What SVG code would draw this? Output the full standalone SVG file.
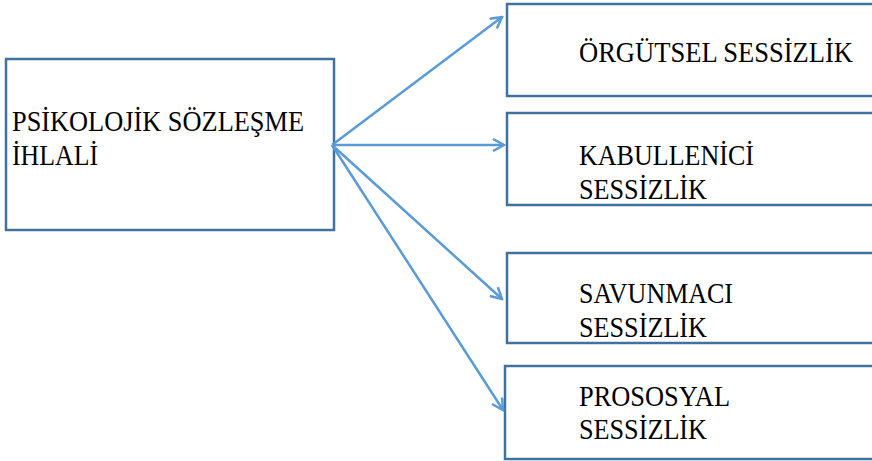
<svg xmlns="http://www.w3.org/2000/svg" width="872" height="461" viewBox="0 0 872 461">
<style>
.box{fill:#ffffff;stroke:#41719C;stroke-width:2.5}
.t{font-family:"Liberation Serif","DejaVu Serif",serif;font-size:28.5px;fill:#000}
.c{stroke:#5B9BD5;stroke-width:2.5;fill:none}
</style>
<defs>
<marker id="ah" viewBox="0 0 14 14" refX="12" refY="7" markerWidth="14" markerHeight="14" markerUnits="userSpaceOnUse" orient="auto">
<path d="M1,1 L12,7 L1,13" fill="none" stroke="#5B9BD5" stroke-width="2.5"/>
</marker>
</defs>
<rect width="872" height="461" fill="#ffffff"/>
<g id="n-main">
<rect class="box" x="6" y="59" width="328" height="171"/>
<text class="t" x="12" y="131" textLength="292" lengthAdjust="spacingAndGlyphs">PSİKOLOJİK SÖZLEŞME</text>
<text class="t" x="12" y="165" textLength="86" lengthAdjust="spacingAndGlyphs">İHLALİ</text>
</g>
<g id="n-orgutsel">
<rect class="box" x="507" y="4" width="380" height="92"/>
<text class="t" x="579" y="62" textLength="274" lengthAdjust="spacingAndGlyphs">ÖRGÜTSEL SESSİZLİK</text>
</g>
<g id="n-kabullenici">
<rect class="box" x="507" y="113" width="380" height="92"/>
<text class="t" x="579" y="165" textLength="175" lengthAdjust="spacingAndGlyphs">KABULLENİCİ</text>
<text class="t" x="579" y="199" textLength="128" lengthAdjust="spacingAndGlyphs">SESSİZLİK</text>
</g>
<g id="n-savunmaci">
<rect class="box" x="507" y="253" width="380" height="90"/>
<text class="t" x="579" y="303" textLength="154" lengthAdjust="spacingAndGlyphs">SAVUNMACI</text>
<text class="t" x="579" y="337" textLength="128" lengthAdjust="spacingAndGlyphs">SESSİZLİK</text>
</g>
<g id="n-prososyal">
<rect class="box" x="505" y="366" width="380" height="93"/>
<text class="t" x="579" y="406" textLength="151" lengthAdjust="spacingAndGlyphs">PROSOSYAL</text>
<text class="t" x="579" y="439" textLength="128" lengthAdjust="spacingAndGlyphs">SESSİZLİK</text>
</g>
<g id="connectors">
<line class="c" x1="332" y1="145" x2="502" y2="17" marker-end="url(#ah)"/>
<line class="c" x1="332" y1="145" x2="504" y2="145" marker-end="url(#ah)"/>
<line class="c" x1="332" y1="145" x2="502" y2="299" marker-end="url(#ah)"/>
<line class="c" x1="332" y1="145" x2="503" y2="410" marker-end="url(#ah)"/>
</g>
</svg>
